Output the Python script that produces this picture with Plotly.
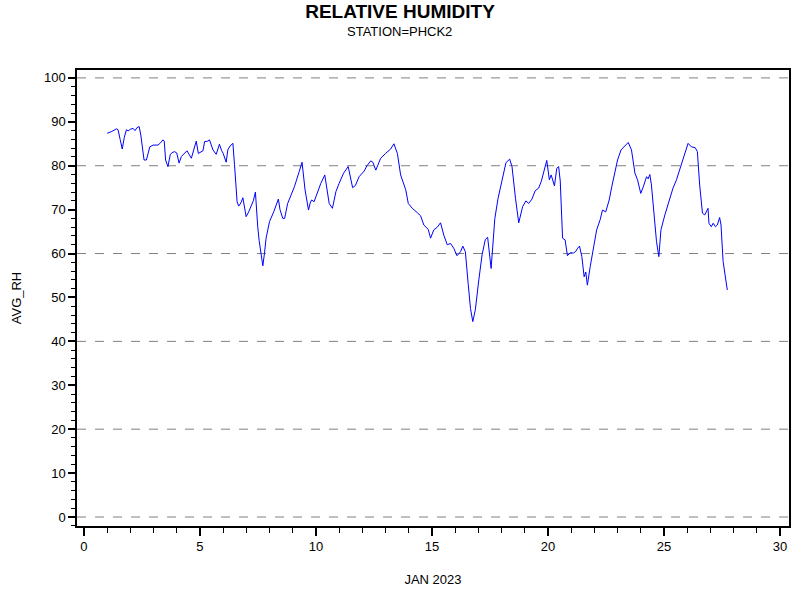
import plotly.graph_objects as go

# Hourly-ish readings (day of Jan 2023, avg RH %)
day = [
    1.00, 1.20, 1.40, 1.47, 1.56, 1.65, 1.74, 1.83, 1.90, 2.00, 2.12, 2.20, 2.29, 2.38,
    2.45, 2.52, 2.59, 2.69, 2.76, 2.84, 2.98, 3.19, 3.30, 3.41, 3.46, 3.52, 3.62, 3.72,
    3.80, 3.91, 4.00, 4.10, 4.20, 4.30, 4.44, 4.63, 4.77, 4.84, 4.93, 5.13, 5.20, 5.34,
    5.41, 5.56, 5.70, 5.84, 5.93, 6.00, 6.13, 6.20, 6.30, 6.42, 6.49, 6.56, 6.60, 6.67,
    6.76, 6.85, 6.92, 6.99, 7.10, 7.21, 7.30, 7.39, 7.44, 7.49, 7.55, 7.61, 7.71, 7.78,
    7.85, 8.00, 8.18, 8.38, 8.45, 8.57, 8.65, 8.78, 9.07, 9.28, 9.40, 9.53, 9.68, 9.75,
    9.81, 9.92, 10.04, 10.21, 10.38, 10.50, 10.57, 10.71, 10.86, 11.00, 11.19, 11.39,
    11.50, 11.58, 11.70, 11.86, 12.08, 12.20, 12.36, 12.45, 12.58, 12.68, 12.79, 13.00,
    13.22, 13.36, 13.51, 13.65, 13.75, 13.87, 13.98, 14.15, 14.37, 14.51, 14.65, 14.84,
    14.94, 15.08, 15.23, 15.37, 15.51, 15.66, 15.80, 15.94, 16.08, 16.23, 16.33, 16.44,
    16.56, 16.66, 16.76, 16.87, 17.02, 17.16, 17.30, 17.40, 17.55, 17.71, 17.85, 18.02,
    18.19, 18.35, 18.45, 18.60, 18.74, 18.91, 19.05, 19.17, 19.31, 19.45, 19.60, 19.71,
    19.85, 19.95, 20.06, 20.14, 20.28, 20.38, 20.46, 20.53, 20.63, 20.74, 20.84, 20.96,
    21.10, 21.20, 21.28, 21.36, 21.46, 21.56, 21.63, 21.70, 21.82, 21.96, 22.10, 22.25,
    22.35, 22.49, 22.64, 22.75, 22.89, 23.00, 23.15, 23.32, 23.46, 23.60, 23.75, 23.86,
    24.00, 24.11, 24.25, 24.32, 24.39, 24.46, 24.58, 24.68, 24.78, 24.87, 25.04, 25.21,
    25.39, 25.54, 25.73, 25.87, 26.04, 26.18, 26.35, 26.44, 26.54, 26.66, 26.76, 26.90,
    26.94, 27.04, 27.12, 27.22, 27.30, 27.40, 27.46, 27.55, 27.64, 27.73,
]
avg_rh = [
    87.4, 87.8, 88.4, 88.2, 86.0, 83.8, 86.5, 88.2, 87.9, 88.3, 88.5, 88.0, 88.7, 88.9,
    87.0, 84.0, 81.3, 81.3, 83.0, 84.3, 84.7, 84.7, 85.2, 85.9, 85.6, 81.3, 79.8, 82.5,
    83.0, 83.2, 82.9, 80.6, 82.1, 82.6, 83.4, 81.7, 84.0, 85.6, 82.8, 83.4, 85.5, 85.6,
    85.9, 83.6, 82.6, 84.9, 83.5, 82.8, 80.8, 83.6, 84.5, 85.1, 80.2, 74.0, 71.8, 70.8,
    71.5, 72.7, 70.0, 68.4, 69.5, 70.7, 72.0, 74.0, 69.5, 66.1, 63.0, 60.4, 57.2, 60.0,
    63.5, 67.3, 69.5, 72.4, 70.0, 68.0, 68.0, 71.4, 75.2, 78.7, 80.8, 74.5, 69.9, 71.5,
    72.2, 71.8, 73.7, 76.0, 77.9, 73.5, 71.4, 70.3, 74.1, 76.0, 78.3, 79.8,
    77.0, 75.0, 75.5, 77.5, 78.8, 80.0, 81.1, 80.8, 79.0, 80.2, 81.7, 82.8,
    83.8, 85.0, 82.8, 77.9, 76.4, 74.5, 71.4, 70.3, 69.3, 68.6, 66.5, 65.5,
    63.5, 65.4, 66.0, 67.0, 64.2, 62.0, 62.3, 61.2, 59.5, 60.4, 61.7, 60.4,
    53.2, 47.5, 44.5, 47.2, 54.0, 59.7, 63.2, 63.7, 56.6, 68.0, 72.6, 76.8,
    80.7, 81.5, 79.8, 72.6, 67.0, 70.7, 72.0, 71.4, 72.4, 74.3, 74.9, 76.4,
    79.2, 81.2, 76.8, 77.9, 75.4, 79.4, 79.8, 76.5, 63.5, 63.1, 59.5, 60.2,
    60.1, 60.5, 61.2, 61.7, 59.3, 54.7, 55.8, 52.8, 57.0, 61.6, 65.4, 67.7,
    69.9, 69.5, 72.2, 75.2, 79.0, 81.3, 83.6, 84.5, 85.3, 83.6, 78.3, 76.8,
    73.7, 75.2, 77.5, 77.0, 78.0, 75.6, 68.0, 62.7, 59.3, 65.4, 68.8, 71.8,
    74.9, 76.8, 79.8, 82.5, 85.1, 84.3, 84.1, 83.2, 75.6, 69.2, 68.8, 70.3,
    66.9, 66.1, 66.9, 66.1, 66.5, 68.2, 66.5, 58.2, 54.7, 51.7,
]

x_ticks = [0, 5, 10, 15, 20, 25, 30]
y_ticks = list(range(0, 101, 10))
ref_lines = [0, 20, 40, 60, 80, 100]

font_name = 'Liberation Sans'

fig = go.Figure()

fig.add_trace(go.Scatter(
    x=day, y=avg_rh,
    mode='lines',
    line=dict(color='#0000FF', width=1),
    showlegend=False,
    hoverinfo='x+y'
))

# dashed reference lines
for v in ref_lines:
    fig.add_hline(y=v, line=dict(color='#808080', width=1, dash='dash'), layer='below')

fig.update_layout(
    width=800, height=600,
    paper_bgcolor='white', plot_bgcolor='white',
    margin=dict(l=77, r=9, t=70, b=74),
    font=dict(family=font_name, size=13, color='black'),
    title=dict(
        text='<b>RELATIVE HUMIDITY</b>',
        x=0.5, xanchor='center',
        y=1 - 11 / 600, yanchor='middle',
        font=dict(family=font_name, size=19, color='black')
    ),
    # subtitle centred on the page, not on the plot area
    annotations=[dict(
        text='STATION=PHCK2',
        xref='paper', yref='paper',
        x=(400 - 77) / 714, y=1 + 39 / 456, xanchor='center', yanchor='middle',
        showarrow=False,
        font=dict(family=font_name, size=13, color='black')
    )]
)

fig.update_xaxes(
    range=[-0.3, 30.39],
    tickvals=x_ticks,
    ticks='outside', ticklen=8, tickwidth=1.5, tickcolor='black',
    minor=dict(dtick=1, tick0=0, ticks='outside', ticklen=5, tickwidth=1, tickcolor='black'),
    showgrid=False, zeroline=False,
    showline=True, linecolor='black', linewidth=1.5, mirror=True,
    title=dict(text='JAN 2023', standoff=22, font=dict(size=13)),
    tickfont=dict(size=13)
)

fig.update_yaxes(
    range=[-2.05, 101.8],
    tickvals=y_ticks,
    ticks='outside', ticklen=7, tickwidth=1.5, tickcolor='black',
    minor=dict(dtick=2, tick0=0, ticks='outside', ticklen=4, tickwidth=1, tickcolor='black'),
    showgrid=False, zeroline=False,
    showline=True, linecolor='black', linewidth=1.5, mirror=True,
    title=dict(text='AVG_RH', standoff=19, font=dict(size=13)),
    tickfont=dict(size=13)
)

# drop the default body margin so the 800x600 figure sits at the window origin
fig.write_html('out.html', config={'displayModeBar': False},
               post_script="document.body.style.margin='0';")
